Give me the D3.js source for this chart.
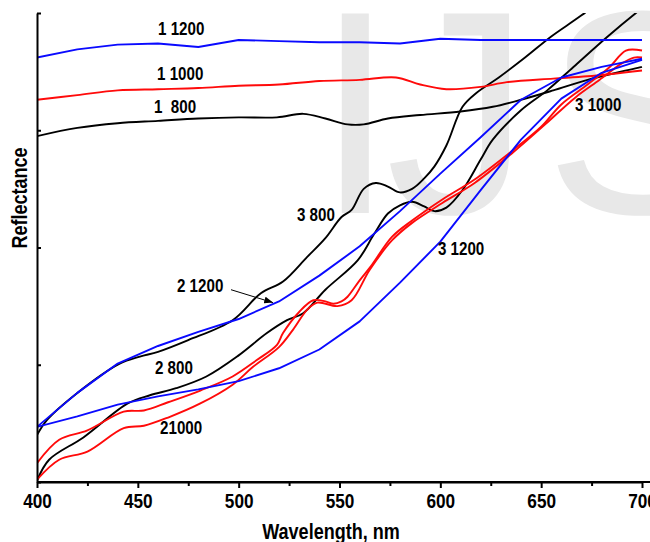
<!DOCTYPE html>
<html>
<head>
<meta charset="utf-8">
<script src="https://cdn.jsdelivr.net/npm/d3@7/dist/d3.min.js"></script>
<style>
  body { margin: 0; background: #fff; }
  svg { display: block; }
  text { font-family: "Liberation Sans", Arial, sans-serif; font-weight: bold; }
</style>
</head>
<body>
<div class="chart"></div>
<script>
// wavelength grid of the curves sampled every 20 nm (blue ones)
const wl20 = [400, 420, 440, 460, 480, 500, 520, 540, 560, 580, 600, 620, 640, 660, 680, 700];
const r1_1200 = [36.2, 36.9, 37.3, 37.4, 37.1, 37.7, 37.6, 37.5, 37.5, 37.4, 37.8, 37.7, 37.7, 37.7, 37.7, 37.7];
const r2_1200 = [4.7, 7.6, 10.1, 11.6, 12.8, 13.9, 15.4, 17.6, 20.1, 23.1, 26.3, 29.4, 32.6, 34.5, 35.4, 36.1];
const r3_1200 = [4.7, 5.6, 6.6, 7.3, 7.9, 8.6, 9.7, 11.3, 13.7, 17.0, 20.5, 24.9, 29.2, 32.7, 34.9, 36.0];

// red curves
const wl1_1000 = [400, 420, 440, 460, 480, 500, 520, 540, 560, 578, 590, 603, 620, 633, 656, 673, 700];
const r1_1000 = [32.6, 33.0, 33.4, 33.5, 33.6, 33.8, 33.9, 34.2, 34.3, 34.5, 33.9, 33.5, 33.7, 34.1, 34.4, 34.6, 35.1];
const wl2_1000 = [400, 411, 425, 443, 453, 465, 481, 497, 507, 520, 527, 534, 539, 549, 556, 565, 576, 586, 601, 617, 636, 652, 667, 679, 690, 696, 700];
const r2_1000 = [0.2, 1.9, 2.6, 4.6, 4.8, 5.5, 6.7, 8.3, 9.8, 11.5, 13.0, 14.7, 15.3, 15.0, 15.5, 18.1, 20.6, 22.1, 23.8, 25.5, 28.1, 30.5, 32.8, 34.3, 35.7, 36.2, 36.2];
const wl3_1000 = [400, 411, 425, 443, 453, 465, 481, 497, 509, 519, 522, 530, 537, 543, 547, 551, 554, 560, 566, 576, 586, 601, 617, 636, 650, 660, 673, 684, 692, 700];
const r3_1000 = [1.6, 3.6, 4.4, 6.0, 6.1, 6.8, 7.8, 9.0, 10.4, 11.7, 12.7, 14.5, 15.5, 15.4, 15.2, 15.4, 15.8, 17.2, 18.5, 20.9, 22.3, 24.1, 25.8, 28.3, 30.3, 32.2, 33.9, 35.4, 36.8, 36.8];

// black curves
const wl1_800 = [400, 420, 440, 460, 480, 500, 519, 532, 543, 554, 562, 574, 590, 610, 626, 640, 656, 673, 700];
const r1_800 = [29.5, 30.2, 30.6, 30.8, 31.0, 31.1, 31.1, 31.4, 31.0, 30.5, 30.5, 31.0, 31.3, 31.6, 32.0, 32.6, 33.4, 34.3, 35.4];
const wl2_800 = [400, 406, 423, 445, 456, 469, 484, 500, 514, 524, 532, 543, 559, 567, 574, 580, 586, 592, 597, 603, 611, 620, 626, 640, 653, 666, 683, 697, 700];
const r2_800 = [0.1, 1.9, 3.8, 6.7, 7.4, 8.0, 9.0, 10.8, 12.7, 13.8, 14.4, 16.4, 18.9, 21.1, 22.9, 23.6, 23.9, 23.5, 23.1, 23.4, 24.9, 27.5, 29.2, 31.7, 33.4, 35.4, 38.0, 40.0, 40.4];
const wl3_800 = [400, 405, 420, 441, 451, 460, 475, 497, 511, 522, 534, 543, 551, 556, 562, 568, 574, 580, 586, 592, 597, 603, 611, 618, 629, 642, 655, 670, 700];
const r3_800 = [4.0, 5.3, 7.6, 10.1, 10.7, 11.1, 12.1, 13.8, 16.1, 17.1, 19.2, 20.8, 22.6, 23.2, 25.0, 25.5, 25.2, 24.7, 25.0, 25.9, 26.9, 28.7, 32.0, 33.2, 34.5, 36.2, 38.0, 39.8, 43.7];

// axis ticks
const majorTicks = [400, 450, 500, 550, 600, 650, 700];
const minorTicks = [425, 475, 525, 575, 625, 675];
const yTicks = [0, 10, 20, 30, 40];

// curve labels, placed in data units (wavelength, reflectance)
const labelText = ["1 1200", "1 1000", "1  800", "3 1000", "3 800", "3 1200", "2 1200", "2 800", "21000"];
const labelWl = [460, 459.5, 458, 666.8, 528.9, 598.8, 469.4, 458.5, 461];
const labelR = [38.1, 34.3, 31.5, 31.6, 22.3, 19.4, 16.2, 9.2, 4.1];

const blue = "#0a0aff", red = "#ff0a0a", black = "#000";

const series = [
    { x: wl1_800, y: r1_800, color: black },
    { x: wl2_800, y: r2_800, color: black },
    { x: wl3_800, y: r3_800, color: black },
    { x: wl1_1000, y: r1_1000, color: red },
    { x: wl2_1000, y: r2_1000, color: red },
    { x: wl3_1000, y: r3_1000, color: red },
    { x: wl20, y: r1_1200, color: blue, straight: true },
    { x: wl20, y: r2_1200, color: blue, straight: true },
    { x: wl20, y: r3_1200, color: blue, straight: true }
];

// size of the chart
const w = 650, h = 542;
const narrow = "scale(0.82,1)";  // the picture uses a narrow bold face

const xScale = d3.scaleLinear().domain([400, 700]).range([37, 642]);
const yScale = d3.scaleLinear().domain([0, 40]).range([482, 13]);

const svg = d3.select("div.chart")
    .append("svg")
    .attr("width", w)
    .attr("height", h);

// watermark behind the curves
svg.append("text")
    .attr("x", 315)
    .attr("y", 213)
    .attr("dx", "0 -10 14")
    .style("font-weight", "normal")
    .style("font-size", "290px")
    .attr("fill", "#e8e8e8")
    .text("IJS");

svg.append("clipPath")
    .attr("id", "plot-clip")
    .append("rect")
    .attr("x", xScale(400))
    .attr("y", yScale(40))
    .attr("width", w - xScale(400))
    .attr("height", yScale(0) - yScale(40));

// draw the spectra
const plot = svg.append("g").attr("clip-path", "url(#plot-clip)");
series.forEach(s => {
    const line = d3.line()
        .x(d => xScale(d[0]))
        .y(d => yScale(d[1]))
        .curve(s.straight ? d3.curveLinear : d3.curveCatmullRom.alpha(0.5));
    plot.append("path")
        .datum(s.x.map((v, i) => [v, s.y[i]]))
        .attr("d", line)
        .attr("fill", "none")
        .attr("stroke", s.color)
        .attr("stroke-width", 1.9)
        .attr("stroke-linejoin", "round");
});

// x axis
const xAxis = d3.axisBottom(xScale)
    .tickValues(majorTicks)
    .tickSizeInner(6)
    .tickSizeOuter(0)
    .tickPadding(5);
const gx = svg.append("g")
    .attr("transform", "translate(0," + yScale(0) + ")")
    .call(xAxis);
gx.selectAll("text")
    .attr("font-family", null)
    .style("font-size", "21px")
    .attr("transform", narrow);

svg.append("g")
    .attr("transform", "translate(0," + yScale(0) + ")")
    .call(d3.axisBottom(xScale).tickValues(minorTicks).tickSize(4).tickFormat(""))
    .select(".domain").remove();

// axis line runs on to the edge of the picture
svg.append("line")
    .attr("x1", xScale(400))
    .attr("x2", w)
    .attr("y1", yScale(0))
    .attr("y2", yScale(0))
    .attr("stroke", "#000")
    .attr("stroke-width", 2);

// y axis, ticks point inward, no numbers
svg.append("g")
    .attr("transform", "translate(" + xScale(400) + ",0)")
    .call(d3.axisRight(yScale).tickValues(yTicks).tickSize(4).tickSizeOuter(0).tickFormat(""));

svg.selectAll(".domain, .tick line")
    .attr("stroke", "#000")
    .attr("stroke-width", 2);

// axis titles
svg.append("text")
    .attr("transform", "translate(331,539) " + narrow)
    .attr("text-anchor", "middle")
    .style("font-size", "22px")
    .text("Wavelength, nm");

svg.append("text")
    .attr("transform", "translate(27,198) rotate(-90) " + narrow)
    .attr("text-anchor", "middle")
    .style("font-size", "22px")
    .text("Reflectance");

// curve labels
svg.selectAll("text.lbl")
    .data(labelText)
    .enter()
    .append("text")
    .attr("class", "lbl")
    .attr("transform", (d, i) => "translate(" + xScale(labelWl[i]) + "," + yScale(labelR[i]) + ") " + narrow)
    .style("font-size", "18.5px")
    .style("white-space", "pre")
    .text(d => d);

// arrow from the "2 1200" label to its curve
svg.append("defs")
    .append("marker")
    .attr("id", "arrow")
    .attr("viewBox", "0 0 10 8")
    .attr("refX", 10)
    .attr("refY", 4)
    .attr("markerWidth", 9)
    .attr("markerHeight", 7)
    .attr("markerUnits", "userSpaceOnUse")
    .attr("orient", "auto")
    .append("path")
    .attr("d", "M0,0 L10,4 L0,8 Z")
    .attr("fill", "#000");

svg.append("line")
    .attr("x1", xScale(496.2))
    .attr("y1", yScale(16.4))
    .attr("x2", xScale(517))
    .attr("y2", yScale(15.3))
    .attr("stroke", "#000")
    .attr("stroke-width", 1)
    .attr("marker-end", "url(#arrow)");
</script>
</body>
</html>
